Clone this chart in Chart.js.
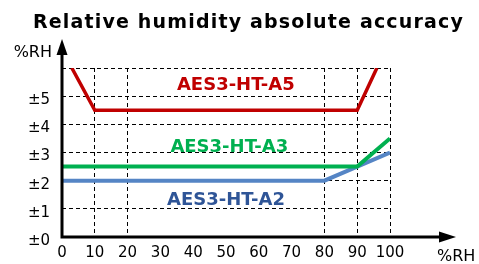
<!DOCTYPE html>
<html>
<head>
<meta charset="utf-8">
<script src="https://cdn.jsdelivr.net/npm/chart.js@4"></script>
<style>
  body { margin: 0; background: #fff; }
  #wrap { width: 479px; height: 264px; }
</style>
</head>
<body>
<div id="wrap"><canvas id="myChart" width="479" height="264"></canvas></div>
<script>
const TITLE = 'Relative humidity absolute accuracy'
const AXIS_UNIT = '%RH'
const seriesNames = ['AES3-HT-A5', 'AES3-HT-A3', 'AES3-HT-A2']
const seriesColors = ['#c00000', '#00b050', '#5585c5']
const labelColors = ['#c00000', '#00b050', '#2f5597']

// humidity (%RH) and accuracy (±%RH) for each model
const xA5 = [3, 10, 90, 96]
const yA5 = [6, 4.5, 4.5, 6]
const xA3 = [0, 90, 100]
const yA3 = [2.5, 2.5, 3.5]
const xA2 = [0, 80, 90, 100]
const yA2 = [2, 2, 2.5, 3]

const xTicks = [0, 10, 20, 30, 40, 50, 60, 70, 80, 90, 100]
const yTicks = [0, 1, 2, 3, 4, 5, 6]
const xGridAt = [10, 20, 80, 90, 100]

const toPoints = (xs, ys) => xs.map((x, i) => ({ x: x, y: ys[i] }))

const FONT = 'DejaVu Sans'

// stretch a text to a given width with letter spacing
const fitText = (c, text, x, y, width) => {
    c.letterSpacing = '0px'
    const w = c.measureText(text).width
    const sp = Math.max(0, (width - w) / text.length)
    c.letterSpacing = sp + 'px'
    c.textAlign = 'left'
    c.fillText(text, x, y)
    c.letterSpacing = '0px'
}

// axes with arrows, title and series names
const decorations = {
    id: 'decorations',
    afterDraw(chart) {
        const c = chart.ctx
        const xs = chart.scales.x
        const ys = chart.scales.y
        const x0 = xs.getPixelForValue(0)
        const y0 = ys.getPixelForValue(0)
        c.save()
        c.strokeStyle = '#000'
        c.fillStyle = '#000'
        c.lineWidth = 3
        c.beginPath()
        c.moveTo(x0, y0 + 1.5)
        c.lineTo(x0, 52)
        c.moveTo(x0 - 1.5, y0)
        c.lineTo(442, y0)
        c.stroke()
        // arrow heads
        c.beginPath()
        c.moveTo(x0, 39)
        c.lineTo(x0 + 5.5, 55)
        c.lineTo(x0 - 5.5, 55)
        c.closePath()
        c.fill()
        c.beginPath()
        c.moveTo(456, y0)
        c.lineTo(439, y0 - 5.5)
        c.lineTo(439, y0 + 5.5)
        c.closePath()
        c.fill()

        c.textBaseline = 'alphabetic'
        c.font = 'bold 19px "' + FONT + '"'
        fitText(c, TITLE, 33, 27.5, 431)

        c.textBaseline = 'middle'
        c.font = '16px "' + FONT + '"'
        c.textAlign = 'right'
        c.fillText(AXIS_UNIT, 52, 53)
        c.textAlign = 'left'
        c.fillText(AXIS_UNIT, 437, 257)

        const labelAt = [[53, 5.4], [51, 3.2], [50, 1.3]]
        c.font = 'bold 18px "' + FONT + '"'
        c.textAlign = 'center'
        seriesNames.forEach((name, i) => {
            c.fillStyle = labelColors[i]
            c.fillText(name, xs.getPixelForValue(labelAt[i][0]), ys.getPixelForValue(labelAt[i][1]))
        })
        c.restore()
    }
}

var ctx = document.getElementById('myChart')
var myChart = new Chart(ctx, {
    type: 'line',
    data: {
        datasets: [
            { label: seriesNames[0], data: toPoints(xA5, yA5), borderColor: seriesColors[0], borderWidth: 3.5 },
            { label: seriesNames[1], data: toPoints(xA3, yA3), borderColor: seriesColors[1], borderWidth: 4 },
            { label: seriesNames[2], data: toPoints(xA2, yA2), borderColor: seriesColors[2], borderWidth: 4 }
        ].map((d, i) => Object.assign(d, { pointRadius: 0, tension: 0, fill: false, order: i === 1 ? 2 : (i === 2 ? 3 : 1) }))
    },
    options: {
        responsive: false,
        animation: false,
        devicePixelRatio: 1,
        layout: { padding: { top: 68, right: 89, left: 0, bottom: 0 } },
        plugins: { legend: { display: false }, title: { display: false }, tooltip: { enabled: false } },
        scales: {
            x: {
                type: 'linear',
                min: 0,
                max: 100,
                afterBuildTicks: s => { s.ticks = xTicks.map(v => ({ value: v })) },
                afterFit: s => { s.height = 27 },
                ticks: { color: '#000', font: { family: FONT, size: 15 }, padding: 7, maxRotation: 0, autoSkip: false },
                grid: {
                    drawTicks: false,
                    lineWidth: 1,
                    color: c => xGridAt.includes(c.tick && c.tick.value) ? '#000' : 'transparent'
                },
                border: { display: false, dash: [4, 3] }
            },
            y: {
                min: 0,
                max: 6,
                afterBuildTicks: s => { s.ticks = yTicks.map(v => ({ value: v })) },
                afterFit: s => { s.width = 62 },
                ticks: {
                    color: '#000',
                    font: { family: FONT, size: 15 },
                    padding: 12,
                    labelOffset: 4,
                    callback: v => v === 6 ? '' : '±' + v
                },
                grid: {
                    drawTicks: false,
                    lineWidth: 1,
                    color: c => (c.tick && c.tick.value >= 1) ? '#000' : 'transparent'
                },
                border: { display: false, dash: [4, 3] }
            }
        }
    },
    plugins: [decorations]
})
</script>
</body>
</html>
